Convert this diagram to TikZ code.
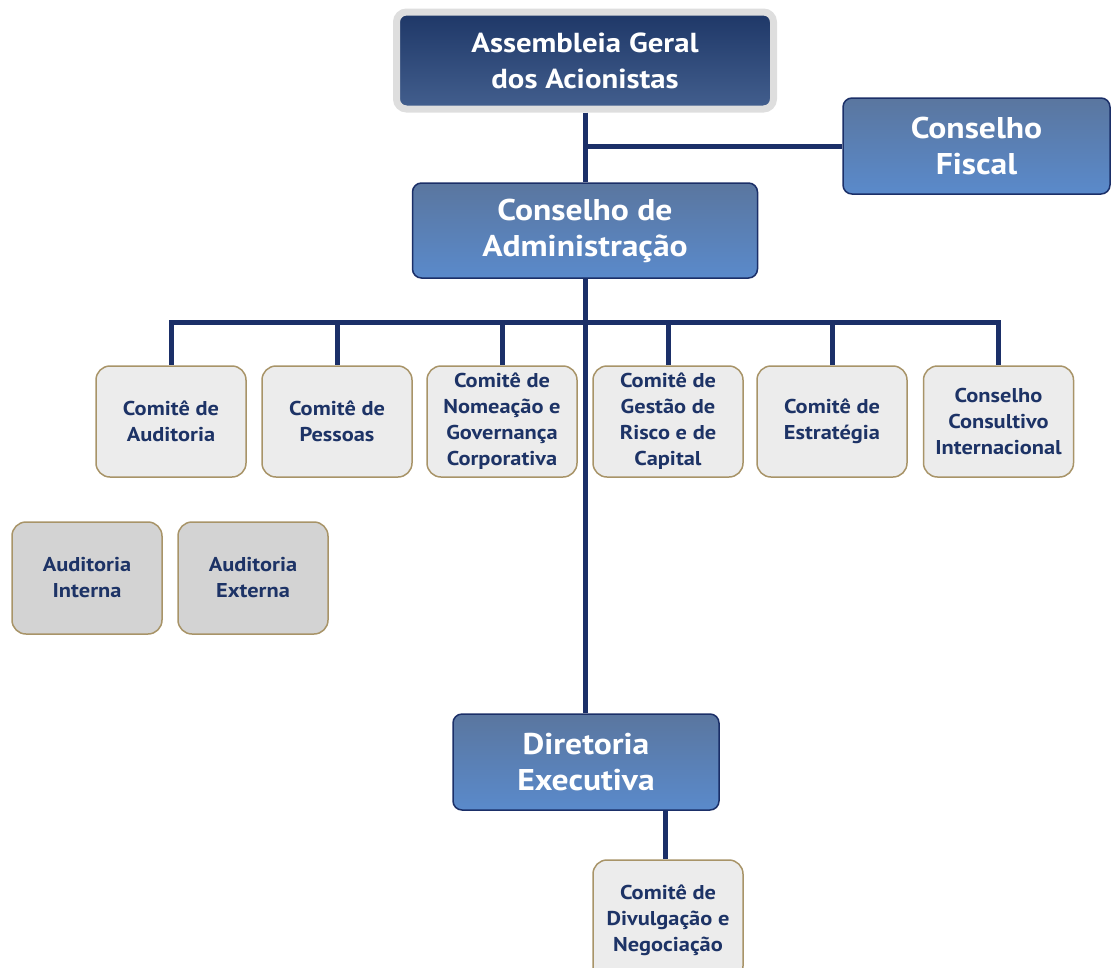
\documentclass[tikz,border=0pt]{standalone}
\usepackage{fontspec}
\setmainfont{PT Sans}[FakeStretch=1.12]
\definecolor{navy}{HTML}{1B2F68}
\definecolor{txtnavy}{HTML}{1D3366}
\definecolor{tan}{HTML}{A89468}
\definecolor{topA}{HTML}{1E3767}
\definecolor{botA}{HTML}{435F8E}
\definecolor{topB}{HTML}{5A769F}
\definecolor{botB}{HTML}{5A8ACB}
\definecolor{lightbox}{HTML}{ECECEC}
\definecolor{graybox}{HTML}{D3D3D3}
\begin{document}
\begin{tikzpicture}[x=1pt,y=-1pt,
  bigbox/.style={draw=navy, line width=1.5pt, rounded corners=9pt, top color=topB, bottom color=botB,
    text=white, font=\fontsize{30}{36}\selectfont\bfseries, align=center, inner sep=0pt},
  headbox/.style={draw=black!13, line width=7pt, rounded corners=10pt, top color=topA, bottom color=botA,
    text=white, font=\fontsize{27.5}{36}\selectfont\bfseries, align=center, inner sep=0pt},
  combox/.style={draw=tan, line width=1.5pt, rounded corners=14pt, fill=lightbox,
    text=txtnavy, font=\fontsize{20}{26}\selectfont\bfseries, align=center, inner sep=0pt,
    minimum width=150pt, minimum height=111pt},
  audbox/.style={combox, fill=graybox, minimum height=112pt},
  link/.style={draw=navy, line width=5pt}
]
\useasboundingbox (0,0) rectangle (1111,967);
\clip (0,0) rectangle (1111,967);

% nodes
\node[headbox, minimum width=377pt, minimum height=97pt] (ag) at (585,60.5) {Assembleia Geral\\dos Acionistas};
\node[bigbox, minimum width=267pt, minimum height=96pt] (cf) at (976.5,146) {Conselho\\Fiscal};
\node[bigbox, minimum width=345pt, minimum height=95pt] (ca) at (585,230.5) {Conselho de\\Administração};
\node[bigbox, minimum width=266pt, minimum height=96pt] (de) at (586,762) {Diretoria\\Executiva};

\node[combox] (c1) at (171,421.5) {Comitê de\\Auditoria};
\node[combox] (c2) at (337,421.5) {Comitê de\\Pessoas};
\node[combox] (c3) at (502,421.5) {Comitê de\\Nomeação e\\Governança\\Corporativa};
\node[combox] (c4) at (668,421.5) {Comitê de\\Gestão de\\Risco e de\\Capital};
\node[combox] (c5) at (832,421.5) {Comitê de\\Estratégia};
\node[combox] (c6) at (998.5,421.5) {Conselho\\Consultivo\\Internacional};

\node[audbox] (ai) at (87,578) {Auditoria\\Interna};
\node[audbox] (ae) at (253,578) {Auditoria\\Externa};

\node[combox, minimum height=120pt] (cd) at (668,920) {Comitê de\\Divulgação e\\Negociação};

% connectors
\coordinate (bar) at (585,322);
\draw[link] (ag.south) -- (ca.north);
\draw[link] (ca.south) -- (ca.south |- de.north);
\draw[link] (ag.south |- cf.west) -- (cf.west);
\draw[link, line cap=rect] (c1.north |- bar) -- (c6.north |- bar);
\foreach \c in {c1,c2,c3,c4,c5,c6} \draw[link] (\c.north |- bar) -- (\c.north);
\coordinate (dj) at (665,810);
\draw[link] (dj) -- (dj |- cd.north);
\end{tikzpicture}
\end{document}
